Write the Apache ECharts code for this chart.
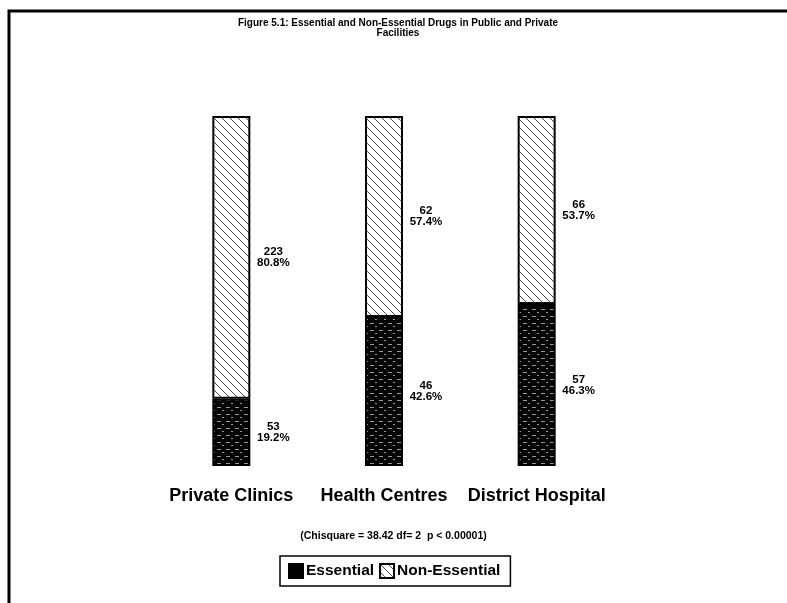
<!DOCTYPE html>
<html>
<head>
<meta charset="utf-8">
<title>Essential and Non-Essential Drugs</title>
<script src="https://cdn.jsdelivr.net/npm/echarts@6/dist/echarts.min.js"></script>
<style>
  html, body { margin: 0; padding: 0; background: #fff; }
  #echart { width: 787px; height: 603px; }
</style>
</head>
<body>
<div id="echart"></div>
<script>
// data
var categories = ["Private Clinics", "Health Centres", "District Hospital"];
var essentialCount = [53, 46, 57];
var nonEssentialCount = [223, 62, 66];
var essentialPct = [19.2, 42.6, 46.3];
var nonEssentialPct = [80.8, 57.4, 53.7];
var titleText = "Figure 5.1: Essential and Non-Essential Drugs in Public and Private\nFacilities";
var noteText = "(Chisquare = 38.42 df= 2  p < 0.00001)";

var font = "'Liberation Sans', Arial, Helvetica, sans-serif";

// hatch fill for non-essential (white with "\" lines)
function hatchPattern() {
  var c = document.createElement("canvas");
  c.width = 8;
  c.height = 8;
  var ctx = c.getContext("2d");
  ctx.fillStyle = "#fff";
  ctx.fillRect(0, 0, 8, 8);
  ctx.strokeStyle = "#444";
  ctx.lineWidth = 1;
  ctx.beginPath();
  ctx.moveTo(-1, -1);
  ctx.lineTo(9, 9);
  ctx.stroke();
  return c;
}

// dark fill for essential (black with white horizontal specks)
function darkPattern() {
  var c = document.createElement("canvas");
  c.width = 9;
  c.height = 7;
  var ctx = c.getContext("2d");
  ctx.fillStyle = "#050505";
  ctx.fillRect(0, 0, 9, 7);
  ctx.fillStyle = "#999";
  ctx.fillRect(1, 1, 4, 1);
  ctx.fillRect(6, 4, 2, 1);
  return c;
}

function makeLabel(counts) {
  return {
    show: true,
    position: "right",
    distance: 23,
    align: "center",
    fontFamily: font,
    fontWeight: "bold",
    fontSize: 11.5,
    lineHeight: 11,
    color: "#000",
    formatter: function (p) {
      return counts[p.dataIndex] + "\n" + p.value + "%";
    }
  };
}

var chart = echarts.init(document.getElementById("echart"));

var option = {
  backgroundColor: "#fff",
  animation: false,
  title: {
    text: titleText,
    left: 393,
    top: 13,
    textAlign: "center",
    textStyle: {
      fontFamily: font,
      fontWeight: "bold",
      fontSize: 10,
      lineHeight: 10,
      color: "#000"
    }
  },
  legend: {
    left: 280,
    top: 556,
    padding: [7, 10, 7, 8],
    borderColor: "#000",
    borderWidth: 1.5,
    itemWidth: 14,
    itemHeight: 14,
    itemGap: 5,
    icon: "rect",
    data: [
      { name: "Essential", itemStyle: { color: "#000" } },
      { name: "Non-Essential" }
    ],
    textStyle: {
      fontFamily: font,
      fontWeight: "bold",
      fontSize: 15.5,
      color: "#000",
      padding: [0, 0, 0, -2]
    }
  },
  grid: {
    left: 155,
    right: 174,
    top: 116,
    bottom: 137
  },
  xAxis: {
    type: "category",
    data: categories,
    axisLine: { show: false },
    axisTick: { show: false },
    axisLabel: {
      interval: 0,
      margin: 21,
      fontFamily: font,
      fontWeight: "bold",
      fontSize: 18,
      color: "#000"
    }
  },
  yAxis: {
    type: "value",
    min: 0,
    max: 100,
    show: false
  },
  series: [
    {
      name: "Essential",
      type: "bar",
      stack: "total",
      barWidth: 38,
      data: essentialPct,
      itemStyle: {
        color: { image: darkPattern(), repeat: "repeat" },
        borderColor: "#000",
        borderWidth: 2
      },
      label: makeLabel(essentialCount)
    },
    {
      name: "Non-Essential",
      type: "bar",
      stack: "total",
      barWidth: 38,
      data: nonEssentialPct,
      itemStyle: {
        color: { image: hatchPattern(), repeat: "repeat" },
        borderColor: "#000",
        borderWidth: 2
      },
      label: makeLabel(nonEssentialCount)
    }
  ],
  graphic: [
    // frame around the figure
    {
      type: "polyline",
      shape: { points: [[9, 603], [9, 11], [787, 11]] },
      style: { stroke: "#000", lineWidth: 3, fill: null }
    },
    {
      type: "text",
      left: "center",
      top: 531,
      style: {
        text: noteText,
        fontFamily: font,
        fontWeight: "bold",
        fontSize: 10.5,
        fill: "#000"
      }
    }
  ]
};

chart.setOption(option);
window.addEventListener("resize", function () {
  chart.resize();
});
</script>
</body>
</html>
